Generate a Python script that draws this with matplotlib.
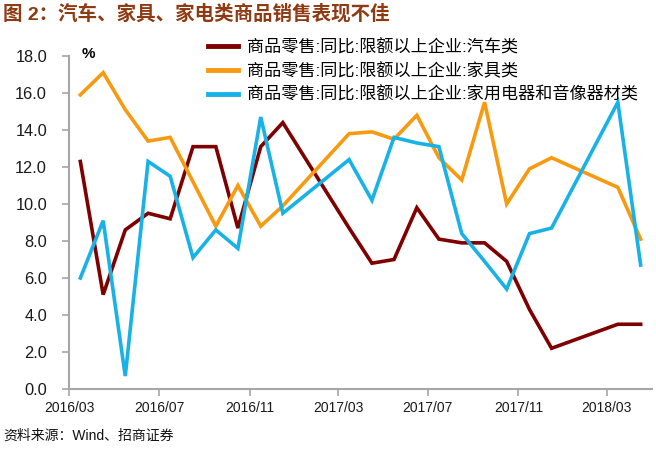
import matplotlib
matplotlib.use("Agg")
import matplotlib.pyplot as plt
import matplotlib.dates as mdates
import pandas as pd

plt.rcParams['font.family'] = ['Liberation Sans', 'Noto Sans CJK SC', 'DejaVu Sans']

months = ["2016-03", "2016-04", "2016-05", "2016-06", "2016-07", "2016-08",
          "2016-09", "2016-10", "2016-11", "2016-12",
          "2017-03", "2017-04", "2017-05", "2017-06", "2017-07", "2017-08",
          "2017-09", "2017-10", "2017-11", "2017-12",
          "2018-03", "2018-04"]
car = [12.3, 5.1, 8.6, 9.5, 9.2, 13.1, 13.1, 8.7, 13.1, 14.4,
       8.7, 6.8, 7.0, 9.8, 8.1, 7.9, 7.9, 6.9, 4.3, 2.2,
       3.5, 3.5]
furniture = [15.9, 17.1, 15.1, 13.4, 13.6, 11.2, 8.8, 11.0, 8.8, 9.9,
             13.8, 13.9, 13.5, 14.8, 12.5, 11.3, 15.5, 10.0, 11.9, 12.5,
             10.9, 8.1]
appliance = [6.0, 9.1, 0.7, 12.3, 11.5, 7.1, 8.6, 7.6, 14.7, 9.5,
             12.4, 10.2, 13.6, 13.3, 13.1, 8.4, 6.9, 5.4, 8.4, 8.7,
             15.5, 6.7]
series_names = ["商品零售:同比:限额以上企业:汽车类",
                "商品零售:同比:限额以上企业:家具类",
                "商品零售:同比:限额以上企业:家用电器和音像器材类"]
tick_labels = ["2016/03", "2016/07", "2016/11", "2017/03", "2017/07", "2017/11", "2018/03"]
yticks = [0, 2, 4, 6, 8, 10, 12, 14, 16, 18]

dates = pd.to_datetime(months) + pd.Timedelta(days=15)
tick_dates = pd.to_datetime([t.replace("/", "-") for t in tick_labels])

fig = plt.figure(figsize=(6.56, 4.5), dpi=100)
ax = fig.add_axes([69.3 / 656, 1 - 389 / 450, (651.7 - 69.3) / 656, (389 - 56) / 450])

colors = ["#7F0000", "#F79A0F", "#19B2E6"]
for vals, c, name in zip([car, furniture, appliance], colors, series_names):
    ax.plot(dates, vals, color=c, lw=2.6, label=name, solid_joinstyle='miter')

ax.set_xlim(pd.Timestamp("2016-03-01"), pd.Timestamp("2018-05-01"))
ax.set_ylim(0, 18)
ax.set_yticks(yticks)
ax.set_yticklabels([f"{v:.1f}" for v in yticks])
ax.set_xticks(tick_dates)
ax.set_xticklabels(tick_labels)

for s in ["top", "right"]:
    ax.spines[s].set_visible(False)
for s in ["left", "bottom"]:
    ax.spines[s].set_color("#A6A6A6")
    ax.spines[s].set_linewidth(1.5)
ax.tick_params(axis="y", direction="out", length=5, width=1.2, color="#A6A6A6",
               labelsize=11.8, pad=11, labelcolor="#1a1a1a")
ax.tick_params(axis="x", direction="out", length=5, width=1.2, color="#A6A6A6",
               labelsize=10, pad=4, labelcolor="#1a1a1a")

ax.text(88 / 656, 1 - 54 / 450, "%", transform=fig.transFigure, fontsize=11,
        fontweight="bold", ha="center", va="center")

leg = ax.legend(loc="upper left", bbox_to_anchor=(208 / 656, 1 - 39 / 450),
                bbox_transform=fig.transFigure, frameon=False, fontsize=12.3,
                handlelength=1.75, handletextpad=0.55, labelspacing=0.42,
                borderpad=0, borderaxespad=0)
for line in leg.get_lines():
    line.set_linewidth(3.5)

fig.text(3 / 656, 1 - 14 / 450, "图 2：汽车、家具、家电类商品销售表现不佳",
         fontsize=14, fontweight="bold", color="#8E3A12", ha="left", va="center",
         family=['Liberation Sans', 'Noto Sans CJK SC'])
fig.text(3 / 656, 1 - 436 / 450, "资料来源：Wind、招商证券", fontsize=10,
         ha="left", va="center", color="#111111")

fig.savefig("out.png", dpi=100)
